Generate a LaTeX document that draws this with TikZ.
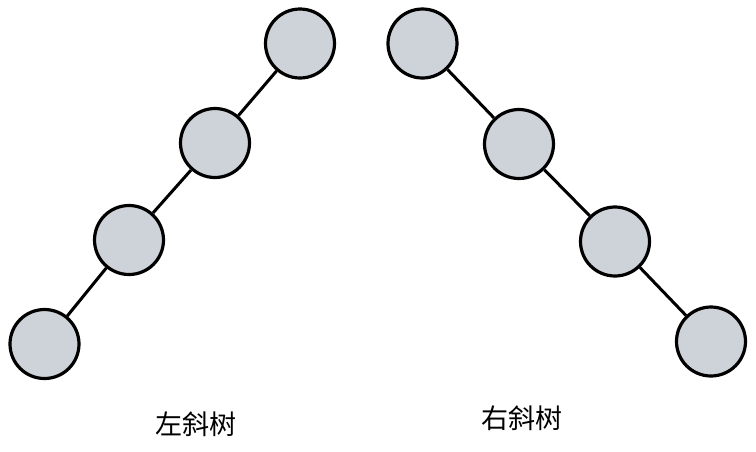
\documentclass[tikz,border=0pt]{standalone}
\usepackage{fontspec}
\newfontfamily\cjk{Noto Sans CJK SC}
\usepackage{tikz}
\definecolor{nodegray}{RGB}{206,211,218}

\begin{document}
\begin{tikzpicture}[x=1pt,y=-1pt]
        \useasboundingbox (0,0) rectangle (756,451);
        \tikzset{tnode/.style={circle, draw=black, line width=3.2pt, fill=nodegray, minimum size=69pt, inner sep=0pt}}
        % left-leaning tree
        \node[tnode] (l1) at (300,43.5) {};
        \node[tnode] (l2) at (215,143) {};
        \node[tnode] (l3) at (129,240) {};
        \node[tnode] (l4) at (44.5,344) {};
        \draw[line width=3pt] (l1)--(l2) (l2)--(l3) (l3)--(l4);
        % right-leaning tree
        \node[tnode] (r1) at (422.5,43.5) {};
        \node[tnode] (r2) at (519,144) {};
        \node[tnode] (r3) at (615,241.5) {};
        \node[tnode] (r4) at (711,341.5) {};
        \draw[line width=3pt] (r1)--(r2) (r2)--(r3) (r3)--(r4);
        \node (leftlabel) at (196,424) {\cjk\fontsize{27pt}{30pt}\selectfont 左斜树};
        \node (rightlabel) at (522,418.5) {\cjk\fontsize{27pt}{30pt}\selectfont 右斜树};
    \end{tikzpicture}
\end{document}
